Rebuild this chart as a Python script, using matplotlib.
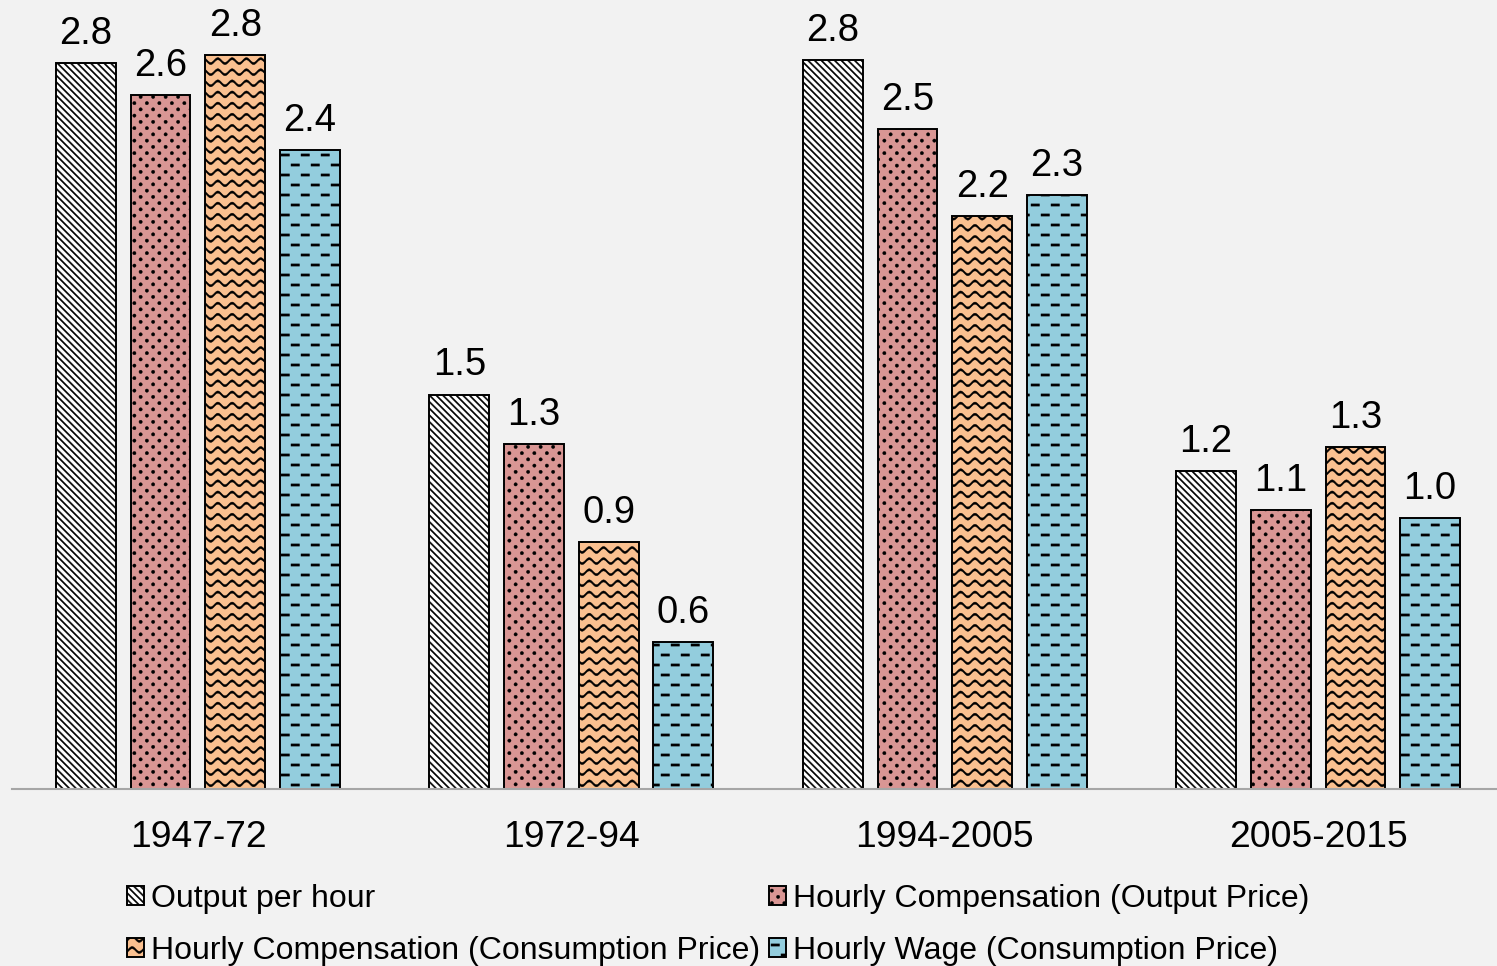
import warnings
import numpy as np
import matplotlib
matplotlib.use("Agg")
import matplotlib.pyplot as plt
import matplotlib.hatch as mhatch
from matplotlib.path import Path

warnings.filterwarnings("ignore")

# ---------------------------------------------------------------- data
periods = ["1947-72", "1972-94", "1994-2005", "2005-2015"]
series_names = [
    "Output per hour",
    "Hourly Compensation (Output Price)",
    "Hourly Compensation (Consumption Price)",
    "Hourly Wage (Consumption Price)",
]
output_per_hour = [2.76, 1.50, 2.77, 1.21]
comp_output_price = [2.64, 1.31, 2.51, 1.06]
comp_consumption_price = [2.79, 0.94, 2.18, 1.30]
wage_consumption_price = [2.43, 0.56, 2.26, 1.03]

series_values = [output_per_hour, comp_output_price,
                 comp_consumption_price, wage_consumption_price]
fill_colors = ["#ffffff", "#d99694", "#fac090", "#93cddd"]
hatch_codes = ["s", "p", "w", "d"]   # stripes, dots, waves, dashes


# ------------------------------------------------ custom fill patterns
class _PolygonHatch(mhatch.HatchPatternBase):
    """Hatch made of closed polygons inside the unit tile."""
    code = None

    def __init__(self, hatch, density):
        self._polys = self.polygons() if (hatch and self.code in hatch) else []
        self.num_vertices = sum(len(p) + 1 for p in self._polys)

    def polygons(self):
        return []

    def set_vertices_and_codes(self, vertices, codes):
        i = 0
        for p in self._polys:
            n = len(p)
            vertices[i:i + n] = p
            vertices[i + n] = p[0]
            codes[i] = Path.MOVETO
            codes[i + 1:i + n] = Path.LINETO
            codes[i + n] = Path.CLOSEPOLY
            i += n + 1


class StripeHatch(_PolygonHatch):
    code = "s"

    def polygons(self):
        n, w = 15, 0.018
        polys = []
        for k in range(-n, 2 * n + 1):
            c = k / n
            polys.append(np.array([[-0.5, c + 0.5], [1.5, c - 1.5],
                                   [1.5, c - 1.5 + w], [-0.5, c + 0.5 + w]]))
        return polys


class DotHatch(_PolygonHatch):
    code = "p"

    def polygons(self):
        rows, per_row, r = 16, 8, 0.017
        ang = np.linspace(0, 2 * np.pi, 11)[:-1]
        circ = np.column_stack([np.cos(ang), np.sin(ang)]) * r
        polys = []
        for j in range(rows):
            y = (j + 0.5) / rows
            for i in range(per_row):
                x = (i + 0.25 + 0.5 * (j % 2)) / per_row
                polys.append(circ + [x, y])
        return polys


class DashHatch(_PolygonHatch):
    code = "d"

    def polygons(self):
        rows, per_row, length, t = 10, 5, 0.085, 0.022
        polys = []
        for j in range(rows):
            y = (j + 0.5) / rows
            for i in range(per_row):
                x0 = 0.01 + i / per_row + 0.1 * (j % 2)
                polys.append(np.array([[x0, y - t / 2], [x0 + length, y - t / 2],
                                       [x0 + length, y + t / 2], [x0, y + t / 2]]))
        return polys


class WaveHatch(_PolygonHatch):
    code = "w"

    def polygons(self):
        rows, waves, amp, t = 9, 7, 0.024, 0.022
        xs = np.linspace(0, 1, 211)
        polys = []
        for j in range(rows):
            y0 = (j + 0.5) / rows
            ys = y0 + amp * np.sin(2 * np.pi * waves * xs)
            upper = np.column_stack([xs, ys + t / 2])
            lower = np.column_stack([xs[::-1], ys[::-1] - t / 2])
            polys.append(np.vstack([upper, lower]))
        return polys


mhatch._hatch_types.extend([StripeHatch, DotHatch, DashHatch, WaveHatch])
mhatch._validate_hatch_pattern = lambda hatch: None

# ---------------------------------------------------------------- style
plt.rcParams["font.family"] = ["Liberation Sans", "DejaVu Sans"]
plt.rcParams["hatch.linewidth"] = 0.3
plt.rcParams["hatch.color"] = "#1a1a1a"

W, H, DPI = 1497, 966, 100
bg = "#f2f2f2"
fig = plt.figure(figsize=(W / DPI, H / DPI), dpi=DPI, facecolor=bg)
ax = fig.add_axes([12 / W, (H - 789) / H, (W - 12) / W, 789 / H], facecolor=bg)

x = np.arange(len(periods))
offsets = [-0.3, -0.1, 0.1, 0.3]
bar_w = 0.16

containers = []
for vals, off, col, hc, name in zip(series_values, offsets, fill_colors,
                                     hatch_codes, series_names):
    bc = ax.bar(x + off, vals, bar_w, color=col, edgecolor="black",
                linewidth=1.4, hatch=hc, label=name, zorder=2)
    ax.bar_label(bc, labels=[f"{v:.1f}" for v in vals], padding=8,
                 fontsize=27.5, color="black")
    containers.append(bc)

ax.set_xlim(-0.498, 3.479)
ax.set_ylim(0, 789 / 263)
ax.set_xticks(x)
ax.set_xticklabels(periods, fontsize=26.8)
ax.tick_params(axis="x", length=0, pad=22)
ax.set_yticks([])
for side in ("left", "top", "right"):
    ax.spines[side].set_visible(False)
ax.spines["bottom"].set_color("#a6a6a6")
ax.spines["bottom"].set_linewidth(1.5)
ax.spines["bottom"].set_zorder(3)

order = [0, 2, 1, 3]
fig.legend([containers[i] for i in order], [series_names[i] for i in order],
           loc="upper left", bbox_to_anchor=(127 / W, (H - 884) / H),
           ncol=2, frameon=False, fontsize=23.0, borderpad=0,
           borderaxespad=0, handlelength=0.52, handleheight=0.52,
           handletextpad=0.22, columnspacing=0.3, labelspacing=0.68)

fig.savefig("out.png", dpi=DPI, facecolor=bg)
